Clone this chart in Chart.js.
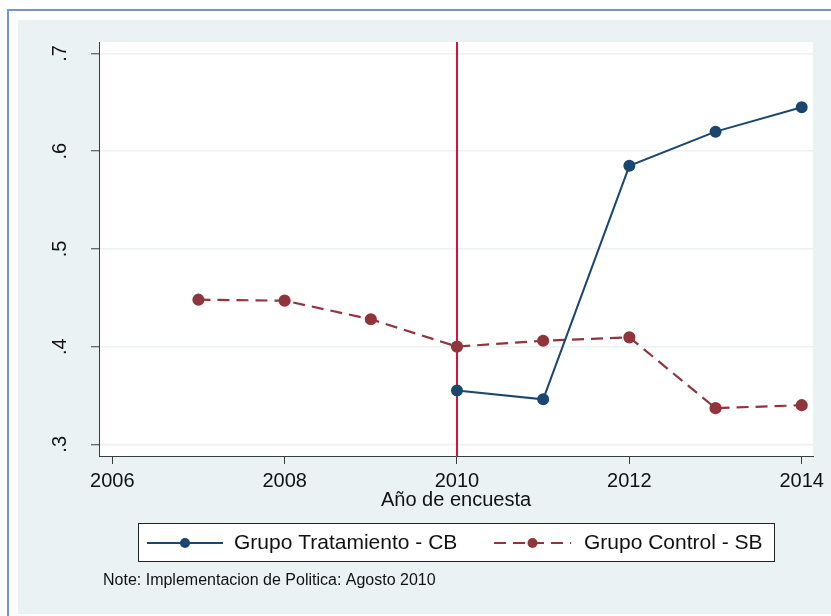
<!DOCTYPE html>
<html><head><meta charset="utf-8">
<script src="https://cdn.jsdelivr.net/npm/chart.js@4/dist/chart.umd.min.js"></script>
<style>html,body{margin:0;padding:0;background:#fff}#wrap{width:831px;height:616px}</style>
</head><body><div id="wrap"><canvas id="c" width="831" height="616"></canvas></div>
<script>
const years = [2007, 2008, 2009, 2010, 2011, 2012, 2013, 2014];
const treatment = [null, null, null, 0.355, 0.346, 0.585, 0.620, 0.645];
const control = [0.448, 0.447, 0.428, 0.400, 0.406, 0.4095, 0.337, 0.340];
const seriesNames = ['Grupo Tratamiento - CB', 'Grupo Control - SB'];
const xTicks = [2006, 2008, 2010, 2012, 2014];
const yTicks = [0.3, 0.4, 0.5, 0.6, 0.7];
const yTickLabels = ['.3', '.4', '.5', '.6', '.7'];
const xTitle = 'Año de encuesta';
const policyYear = 2010;
const noteText = 'Note: Implementacion de Politica: Agosto 2010';

const FONT = "'Liberation Sans', Arial, sans-serif";
const BLUE = '#1a476f', RED = '#90353b', VLINE = '#d3123f';
const BG = '#eaf2f3', AXIS = '#3c3c3c';

const toPts = vals => years.map((y, i) => ({x: y, y: vals[i]}));

const framePlugin = {
  id: 'frame',
  beforeDraw(chart) {
    const ctx = chart.ctx, a = chart.chartArea;
    ctx.save();
    ctx.fillStyle = '#fff';
    ctx.fillRect(0, 0, chart.width, chart.height);
    ctx.fillStyle = BG;
    ctx.fillRect(18, 20, chart.width - 18, 594);
    ctx.strokeStyle = '#6f96cf';
    ctx.lineWidth = 2;
    ctx.beginPath();
    ctx.moveTo(8, chart.height);
    ctx.lineTo(8, 10);
    ctx.lineTo(chart.width, 10);
    ctx.stroke();
    ctx.fillStyle = '#fff';
    ctx.fillRect(a.left, a.top, a.right - a.left, a.bottom - a.top);
    ctx.restore();
  },
  beforeDatasetsDraw(chart) {
    const ctx = chart.ctx, a = chart.chartArea;
    const px = chart.scales.x.getPixelForValue(policyYear);
    ctx.save();
    ctx.strokeStyle = VLINE;
    ctx.lineWidth = 2;
    ctx.beginPath();
    ctx.moveTo(px, a.top);
    ctx.lineTo(px, a.bottom);
    ctx.stroke();
    ctx.restore();
  },
  afterDraw(chart) {
    const ctx = chart.ctx;
    ctx.save();
    ctx.fillStyle = '#fff';
    ctx.fillRect(138, 523, 636, 38);
    ctx.strokeStyle = '#222';
    ctx.lineWidth = 1;
    ctx.strokeRect(138.5, 523.5, 636, 38);
    const items = [{x0: 147, x1: 223, tx: 234}, {x0: 494, x1: 571, tx: 584}];
    const ly = 543;
    chart.data.datasets.forEach((ds, i) => {
      const it = items[i];
      ctx.strokeStyle = ds.borderColor;
      ctx.lineWidth = ds.borderWidth;
      ctx.setLineDash(ds.borderDash || []);
      ctx.beginPath();
      ctx.moveTo(it.x0, ly);
      ctx.lineTo(it.x1, ly);
      ctx.stroke();
      ctx.setLineDash([]);
      ctx.fillStyle = ds.pointBackgroundColor;
      ctx.beginPath();
      ctx.arc((it.x0 + it.x1) / 2, ly, ds.pointRadius, 0, Math.PI * 2);
      ctx.fill();
      ctx.fillStyle = '#111';
      ctx.font = '21px ' + FONT;
      ctx.textBaseline = 'middle';
      ctx.textAlign = 'left';
      ctx.fillText(ds.label, it.tx, ly);
    });
    ctx.font = '16px ' + FONT;
    ctx.fillStyle = '#111';
    ctx.textBaseline = 'middle';
    ctx.fillText(noteText, 103, 581);
    ctx.restore();
  }
};

new Chart(document.getElementById('c'), {
  type: 'line',
  data: {
    datasets: [
      {label: seriesNames[0], data: toPts(treatment), borderColor: BLUE, backgroundColor: BLUE,
       pointBackgroundColor: BLUE, pointBorderColor: BLUE, borderWidth: 2, pointRadius: 5, spanGaps: false},
      {label: seriesNames[1], data: toPts(control), borderColor: RED, backgroundColor: RED,
       pointBackgroundColor: RED, pointBorderColor: RED, borderWidth: 2.2, borderDash: [12, 7], pointRadius: 5}
    ]
  },
  options: {
    responsive: false, animation: false, devicePixelRatio: 1,
    layout: {padding: {top: 42, right: 18, left: 0, bottom: 104}},
    plugins: {legend: {display: false}, tooltip: {enabled: false}},
    scales: {
      x: {
        type: 'linear', min: 2005.846, max: 2014.131,
        afterBuildTicks: s => { s.ticks = xTicks.map(v => ({value: v})); },
        afterFit: s => { s.height = 56; },
        grid: {drawOnChartArea: false, drawTicks: true, tickLength: 8, tickColor: AXIS, tickWidth: 1},
        border: {color: AXIS, width: 1},
        ticks: {font: {family: FONT, size: 20}, color: '#111', padding: 5, maxRotation: 0, minRotation: 0,
                callback: v => String(v)},
        title: {display: true, text: xTitle, font: {family: FONT, size: 20}, color: '#111', padding: 0}
      },
      y: {
        type: 'linear', min: 0.28802, max: 0.71177,
        afterBuildTicks: s => { s.ticks = yTicks.map(v => ({value: v})); },
        afterFit: s => { s.width = 99; },
        grid: {color: BG, lineWidth: 1.5, drawTicks: true, tickLength: 8, tickColor: AXIS, tickWidth: 1},
        border: {color: AXIS, width: 1},
        ticks: {font: {family: FONT, size: 20}, color: '#111', padding: 22, minRotation: 90, maxRotation: 90,
                crossAlign: 'center',
                callback: v => yTickLabels[yTicks.indexOf(Math.round(v * 10) / 10)]}
      }
    }
  },
  plugins: [framePlugin]
});
</script>
</body></html>
